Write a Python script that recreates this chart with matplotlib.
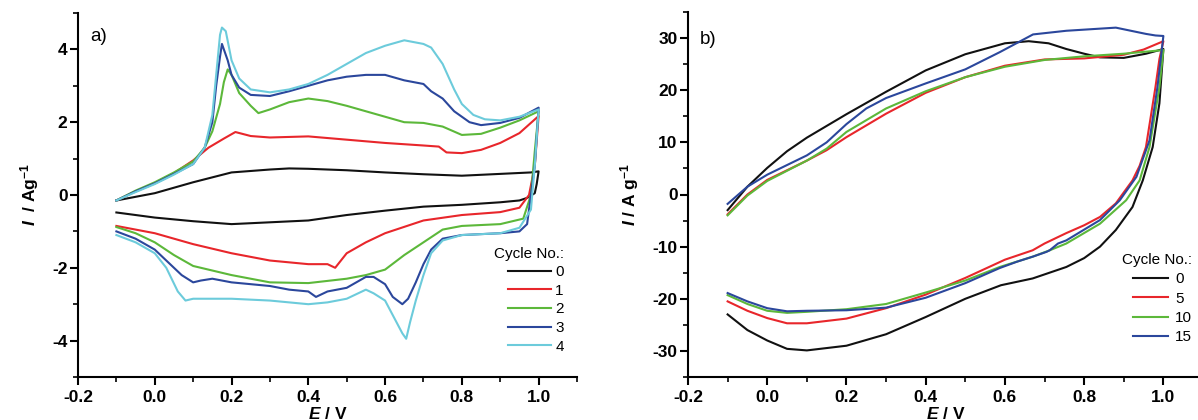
import matplotlib
matplotlib.use("Agg")
import matplotlib.pyplot as plt
from matplotlib.ticker import MultipleLocator

plt.rcParams['font.family'] = ['Liberation Sans', 'DejaVu Sans']
plt.rcParams['mathtext.fontset'] = 'custom'
plt.rcParams['mathtext.rm'] = 'Liberation Sans'
plt.rcParams['mathtext.it'] = 'Liberation Sans:italic'
plt.rcParams['mathtext.bf'] = 'Liberation Sans:bold'
plt.rcParams['mathtext.bfit'] = 'Liberation Sans:bold:italic'

# ---------------- Panel a) data (E / V, I / A g^-1) ----------------
a_labels = ['0', '1', '2', '3', '4']
a_colors = ['#111111', '#e8262b', '#5cb83a', '#2b479c', '#6ccbdb']

# cycle 0
a0_up_E = [-0.1, 0.0, 0.1, 0.2, 0.3, 0.35, 0.4, 0.5, 0.6, 0.7, 0.8, 0.9, 0.98, 1.0]
a0_up_I = [-0.15, 0.05, 0.35, 0.62, 0.70, 0.73, 0.72, 0.68, 0.62, 0.57, 0.53, 0.58, 0.62, 0.65]
a0_dn_E = [1.0, 0.995, 0.99, 0.97, 0.95, 0.9, 0.8, 0.7, 0.6, 0.5, 0.4, 0.3, 0.2, 0.1, 0.0, -0.1]
a0_dn_I = [0.65, 0.3, 0.05, -0.08, -0.15, -0.2, -0.27, -0.32, -0.43, -0.55, -0.70, -0.75, -0.80, -0.72, -0.62, -0.48]

# cycle 1
a1_up_E = [-0.1, -0.05, 0.0, 0.05, 0.1, 0.14, 0.18, 0.21, 0.25, 0.3, 0.4, 0.5, 0.6, 0.7, 0.74, 0.76, 0.8, 0.85, 0.9, 0.95, 1.0]
a1_up_I = [-0.15, 0.1, 0.32, 0.6, 0.95, 1.3, 1.55, 1.73, 1.62, 1.58, 1.61, 1.52, 1.43, 1.36, 1.33, 1.17, 1.15, 1.24, 1.43, 1.70, 2.17]
a1_dn_E = [1.0, 0.99, 0.975, 0.95, 0.9, 0.8, 0.7, 0.6, 0.55, 0.5, 0.47, 0.45, 0.4, 0.3, 0.2, 0.1, 0.0, -0.1]
a1_dn_I = [2.17, 0.8, 0.0, -0.35, -0.47, -0.55, -0.70, -1.05, -1.30, -1.60, -2.00, -1.90, -1.90, -1.80, -1.60, -1.35, -1.05, -0.85]

# cycle 2
a2_up_E = [-0.1, -0.05, 0.0, 0.05, 0.1, 0.13, 0.15, 0.17, 0.18, 0.19, 0.2, 0.22, 0.25, 0.27, 0.3, 0.35, 0.4, 0.45, 0.5, 0.55, 0.6, 0.65, 0.7, 0.75, 0.8, 0.85, 0.9, 0.95, 1.0]
a2_up_I = [-0.15, 0.12, 0.35, 0.62, 0.92, 1.3, 1.75, 2.5, 3.1, 3.45, 3.3, 2.8, 2.45, 2.25, 2.35, 2.55, 2.65, 2.58, 2.45, 2.3, 2.15, 2.0, 1.98, 1.88, 1.65, 1.68, 1.85, 2.05, 2.3]
a2_dn_E = [1.0, 0.99, 0.98, 0.96, 0.9, 0.8, 0.75, 0.7, 0.65, 0.6, 0.55, 0.5, 0.4, 0.3, 0.2, 0.1, 0.05, 0.0, -0.05, -0.1]
a2_dn_I = [2.3, 1.2, 0.0, -0.65, -0.80, -0.85, -0.95, -1.30, -1.65, -2.05, -2.20, -2.30, -2.42, -2.40, -2.20, -1.95, -1.65, -1.30, -1.05, -0.88]

# cycle 3
a3_up_E = [-0.1, -0.05, 0.0, 0.05, 0.1, 0.13, 0.15, 0.16, 0.17, 0.175, 0.19, 0.2, 0.22, 0.25, 0.3, 0.35, 0.4, 0.45, 0.5, 0.55, 0.6, 0.65, 0.7, 0.72, 0.75, 0.78, 0.82, 0.85, 0.9, 0.95, 1.0]
a3_up_I = [-0.15, 0.1, 0.32, 0.58, 0.85, 1.3, 2.0, 3.0, 3.8, 4.15, 3.7, 3.3, 2.95, 2.75, 2.72, 2.85, 3.0, 3.15, 3.25, 3.3, 3.3, 3.15, 3.05, 2.85, 2.65, 2.3, 2.0, 1.92, 1.98, 2.12, 2.4]
a3_dn_E = [1.0, 0.99, 0.98, 0.97, 0.95, 0.9, 0.8, 0.75, 0.72, 0.7, 0.68, 0.66, 0.645, 0.62, 0.6, 0.57, 0.55, 0.5, 0.45, 0.42, 0.4, 0.35, 0.3, 0.2, 0.15, 0.12, 0.1, 0.07, 0.03, 0.0, -0.05, -0.1]
a3_dn_I = [2.4, 0.8, 0.0, -0.8, -1.0, -1.05, -1.10, -1.20, -1.50, -1.90, -2.40, -2.85, -3.00, -2.80, -2.45, -2.25, -2.25, -2.55, -2.65, -2.80, -2.65, -2.60, -2.50, -2.40, -2.30, -2.35, -2.40, -2.20, -1.80, -1.50, -1.20, -1.00]

# cycle 4
a4_up_E = [-0.1, -0.05, 0.0, 0.05, 0.1, 0.13, 0.15, 0.16, 0.17, 0.175, 0.185, 0.2, 0.22, 0.25, 0.3, 0.35, 0.4, 0.45, 0.5, 0.55, 0.6, 0.65, 0.7, 0.72, 0.75, 0.78, 0.8, 0.83, 0.86, 0.9, 0.95, 1.0]
a4_up_I = [-0.15, 0.08, 0.30, 0.56, 0.85, 1.3, 2.2, 3.3, 4.4, 4.6, 4.5, 3.7, 3.2, 2.9, 2.82, 2.9, 3.05, 3.3, 3.6, 3.9, 4.1, 4.25, 4.15, 4.05, 3.6, 2.9, 2.5, 2.2, 2.08, 2.05, 2.15, 2.35]
a4_dn_E = [1.0, 0.99, 0.98, 0.95, 0.9, 0.8, 0.75, 0.72, 0.7, 0.68, 0.665, 0.655, 0.645, 0.63, 0.6, 0.57, 0.55, 0.5, 0.45, 0.4, 0.3, 0.2, 0.1, 0.08, 0.06, 0.03, 0.0, -0.05, -0.1]
a4_dn_I = [2.35, 0.8, -0.4, -0.9, -1.05, -1.10, -1.25, -1.60, -2.20, -2.90, -3.50, -3.95, -3.80, -3.50, -2.90, -2.70, -2.60, -2.85, -2.95, -3.00, -2.90, -2.85, -2.85, -2.90, -2.65, -2.00, -1.60, -1.30, -1.10]

a_series = [
    (a0_up_E, a0_up_I, a0_dn_E, a0_dn_I),
    (a1_up_E, a1_up_I, a1_dn_E, a1_dn_I),
    (a2_up_E, a2_up_I, a2_dn_E, a2_dn_I),
    (a3_up_E, a3_up_I, a3_dn_E, a3_dn_I),
    (a4_up_E, a4_up_I, a4_dn_E, a4_dn_I),
]

# ---------------- Panel b) data ----------------
b_labels = ['0', '5', '10', '15']
b_colors = ['#111111', '#e8262b', '#5cb83a', '#2b479c']

b0_up_E = [-0.1, -0.05, 0.0, 0.05, 0.1, 0.2, 0.3, 0.4, 0.5, 0.6, 0.66, 0.71, 0.755, 0.8, 0.84, 0.9, 0.956, 1.0]
b0_up_I = [-3.0, 1.5, 5.1, 8.3, 10.9, 15.4, 19.7, 23.8, 26.9, 29.0, 29.4, 29.0, 27.9, 27.0, 26.3, 26.2, 27.0, 27.9]
b0_dn_E = [1.0, 0.99, 0.973, 0.948, 0.922, 0.88, 0.84, 0.8, 0.755, 0.67, 0.59, 0.5, 0.4, 0.3, 0.2, 0.1, 0.05, 0.0, -0.05, -0.1]
b0_dn_I = [27.9, 17.5, 9.1, 2.7, -2.4, -6.8, -10.0, -12.2, -13.9, -16.1, -17.4, -20.0, -23.5, -26.8, -29.0, -29.9, -29.6, -28.0, -26.0, -23.0]

b1_up_E = [-0.1, -0.05, 0.0, 0.1, 0.15, 0.2, 0.3, 0.4, 0.5, 0.6, 0.7, 0.8, 0.9, 0.95, 1.0]
b1_up_I = [-3.8, 0.0, 2.8, 6.5, 8.5, 11.0, 15.5, 19.5, 22.5, 24.7, 25.9, 26.1, 26.8, 27.8, 29.4]
b1_dn_E = [1.0, 0.99, 0.98, 0.956, 0.94, 0.922, 0.9, 0.88, 0.84, 0.8, 0.755, 0.7, 0.67, 0.6, 0.5, 0.4, 0.3, 0.2, 0.1, 0.05, 0.0, -0.05, -0.1]
b1_dn_I = [29.4, 26.0, 20.6, 9.1, 5.5, 2.7, 0.4, -1.7, -4.3, -5.9, -7.4, -9.4, -10.7, -12.5, -16.0, -19.2, -21.8, -23.8, -24.7, -24.7, -23.7, -22.3, -20.5]

b2_up_E = [-0.1, -0.05, 0.0, 0.1, 0.15, 0.2, 0.3, 0.4, 0.5, 0.6, 0.7, 0.8, 0.9, 1.0]
b2_up_I = [-4.0, -0.2, 2.6, 6.5, 8.8, 12.0, 16.5, 19.8, 22.5, 24.5, 25.8, 26.5, 27.0, 27.7]
b2_dn_E = [1.0, 0.99, 0.965, 0.94, 0.906, 0.84, 0.755, 0.713, 0.671, 0.587, 0.5, 0.4, 0.3, 0.2, 0.1, 0.05, 0.0, -0.05, -0.1]
b2_dn_I = [27.7, 20.6, 9.1, 2.7, -1.1, -5.6, -9.4, -10.7, -11.9, -13.9, -16.5, -18.8, -21.0, -22.0, -22.5, -22.7, -22.3, -21.0, -19.3]

b3_up_E = [-0.1, -0.05, 0.0, 0.1, 0.15, 0.2, 0.25, 0.3, 0.4, 0.5, 0.587, 0.671, 0.755, 0.88, 0.956, 0.98, 1.0]
b3_up_I = [-1.8, 1.5, 3.8, 7.5, 10.0, 13.5, 16.5, 18.5, 21.3, 24.0, 27.3, 30.7, 31.4, 32.0, 30.8, 30.5, 30.4]
b3_dn_E = [1.0, 0.985, 0.965, 0.932, 0.89, 0.84, 0.755, 0.734, 0.713, 0.705, 0.671, 0.63, 0.587, 0.5, 0.4, 0.3, 0.2, 0.1, 0.05, 0.0, -0.05, -0.1]
b3_dn_I = [30.4, 20.6, 10.4, 3.4, -1.1, -4.9, -8.8, -9.4, -10.7, -11.0, -11.9, -12.9, -14.1, -17.0, -19.8, -21.7, -22.2, -22.3, -22.4, -21.8, -20.5, -18.9]

b_series = [
    (b0_up_E, b0_up_I, b0_dn_E, b0_dn_I),
    (b1_up_E, b1_up_I, b1_dn_E, b1_dn_I),
    (b2_up_E, b2_up_I, b2_dn_E, b2_dn_I),
    (b3_up_E, b3_up_I, b3_dn_E, b3_dn_I),
]

x_ticks = [-0.2, 0.0, 0.2, 0.4, 0.6, 0.8, 1.0]
x_ticklabels = ['-0.2', '0.0', '0.2', '0.4', '0.6', '0.8', '1.0']
a_yticks = [-4, -2, 0, 2, 4]
b_yticks = [-30, -20, -10, 0, 10, 20, 30]

W, H = 1198, 420
fig = plt.figure(figsize=(W / 100, H / 100), dpi=100)

axA = fig.add_axes([78 / W, 1 - 377 / H, (577 - 78) / W, (377 - 13) / H])
axB = fig.add_axes([688 / W, 1 - 377 / H, (1203 - 688) / W, (377 - 12) / H])


def style(ax, xlim, ylim, yticks, ymin):
    ax.set_xlim(*xlim)
    ax.set_ylim(*ylim)
    ax.set_xticks(x_ticks)
    ax.set_xticklabels(x_ticklabels, fontweight='bold')
    ax.set_yticks(yticks)
    ax.set_yticklabels([str(v) for v in yticks], fontweight='bold')
    ax.xaxis.set_minor_locator(MultipleLocator(0.1))
    ax.yaxis.set_minor_locator(MultipleLocator(ymin))
    for s in ['top', 'right']:
        ax.spines[s].set_visible(False)
    for s in ['left', 'bottom']:
        ax.spines[s].set_linewidth(1.5)
    ax.tick_params(which='major', direction='out', length=6, width=1.5, labelsize=12.5)
    ax.tick_params(axis='y', which='major', pad=1.5)
    ax.tick_params(axis='x', which='major', pad=3)
    ax.tick_params(which='minor', direction='out', length=3.5, width=1.2)


style(axA, (-0.2, 1.1), (-5, 5), a_yticks, 1)
style(axB, (-0.2, 1.1), (-35, 35), b_yticks, 5)

for (ue, ui, de, di), c, lab in zip(a_series, a_colors, a_labels):
    axA.plot(list(ue) + list(de), list(ui) + list(di), color=c, lw=1.5, label=lab)
for (ue, ui, de, di), c, lab in zip(b_series, b_colors, b_labels):
    axB.plot(list(ue) + list(de), list(ui) + list(di), color=c, lw=1.5, label=lab)

axA.set_xlabel(r'$\bfit{E}$ / V', fontsize=12.5, fontweight='bold', labelpad=1)
axA.set_ylabel(r'$\bfit{I}$  / Ag$^{\mathbf{-1}}$', fontsize=12.5, fontweight='bold', labelpad=8)
axB.set_xlabel(r'$\bfit{E}$ / V', fontsize=12.5, fontweight='bold', labelpad=1)
axB.set_ylabel(r'$\bfit{I}$ / A g$^{\mathbf{-1}}$', fontsize=12.5, fontweight='bold', labelpad=8)

axA.text(0.025, 0.935, 'a)', transform=axA.transAxes, fontsize=13.5, va='center', ha='left')
axB.text(0.023, 0.925, 'b)', transform=axB.transAxes, fontsize=13.5, va='center', ha='left')

legA = axA.legend(title='Cycle No.:', loc='lower right', bbox_to_anchor=(0.995, 0.035),
                  frameon=False, fontsize=11, title_fontsize=11, handlelength=2.8,
                  handletextpad=0.3, labelspacing=0.3, borderpad=0.2, alignment='right')
legB = axB.legend(title='Cycle No.:', loc='lower right', bbox_to_anchor=(1.0, 0.06),
                  frameon=False, fontsize=11, title_fontsize=11, handlelength=2.3,
                  handletextpad=0.5, labelspacing=0.35, borderpad=0.2, alignment='right')

fig.savefig('out.png', dpi=100)
